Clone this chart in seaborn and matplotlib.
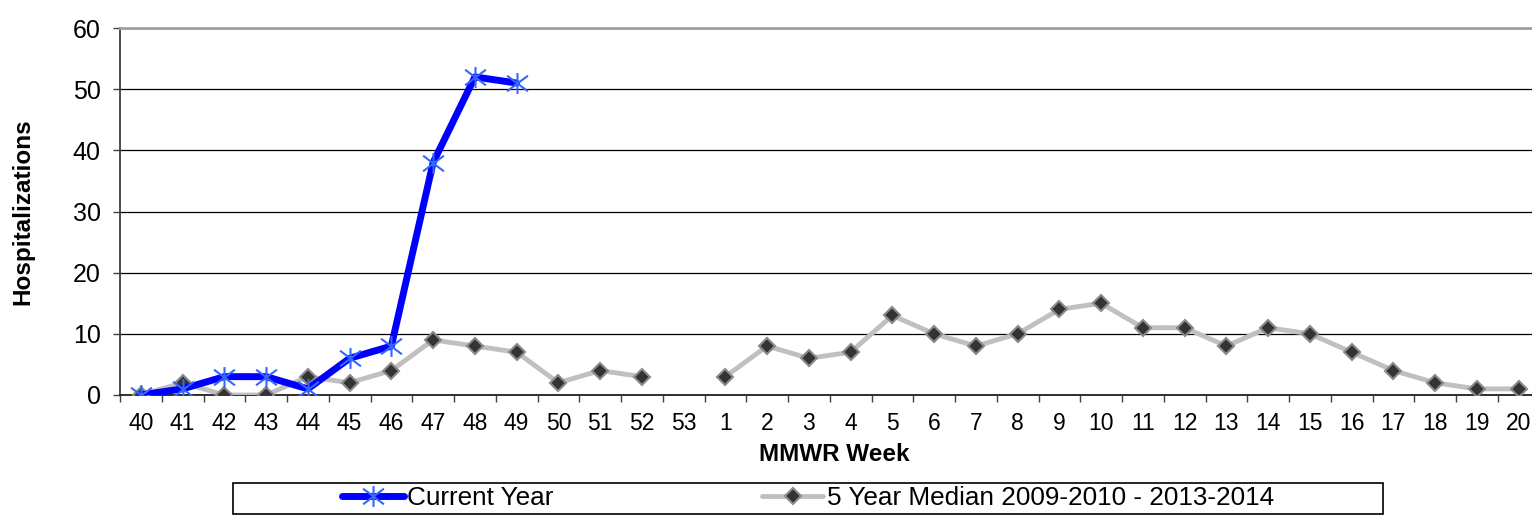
import numpy as np
import pandas as pd
import seaborn as sns
import matplotlib.pyplot as plt
from matplotlib.path import Path
from matplotlib.patches import Rectangle

## Data
weeks = [str(w) for w in range(40, 54)] + [str(w) for w in range(1, 21)]
current_year = [0, 1, 3, 3, 1, 6, 8, 38, 52, 51] + [np.nan] * 24
median_5yr = [0, 2, 0, 0, 3, 2, 4, 9, 8, 7, 2, 4, 3, np.nan,
              3, 8, 6, 7, 13, 10, 8, 10, 14, 15, 11, 11, 8, 11, 10, 7, 4, 2, 1, 1]
# the median line breaks at week 53
median_segment = [0] * 14 + [1] * 20

df = pd.DataFrame({'pos': range(len(weeks)), 'week': weeks,
                   'current': current_year, 'median': median_5yr,
                   'segment': median_segment})

sns.set_style('white')
plt.rcParams['font.family'] = ['Liberation Sans', 'DejaVu Sans']
plt.rcParams['text.color'] = 'black'
plt.rcParams['axes.labelcolor'] = 'black'
plt.rcParams['xtick.labelcolor'] = 'black'
plt.rcParams['ytick.labelcolor'] = 'black'

fig = plt.figure(figsize=(15.32, 5.18), dpi=100)
ax = fig.add_axes([120 / 1532, 1 - 395 / 518, 34 * 41.75 / 1532, 367 / 518])

# asterisk marker like the Excel one
star = Path([(0, -1), (0, 1), (-1, -0.75), (1, 0.75), (-1, 0.75), (1, -0.75)],
            [Path.MOVETO, Path.LINETO] * 3)

med = df.dropna(subset=['median'])
sns.lineplot(data=med, x='pos', y='median', units='segment', estimator=None,
             color='#c0c0c0', lw=3.5, marker='D', markersize=8.5,
             markerfacecolor='#333333', markeredgecolor='#8a8a8a',
             markeredgewidth=1.5, ax=ax, label='5 Year Median 2009-2010 - 2013-2014',
             zorder=3)

cur = df.dropna(subset=['current'])
sns.lineplot(data=cur, x='pos', y='current', color='#0000ff', lw=5,
             marker=star, markersize=15, markeredgecolor='#3366ff',
             markerfacecolor='none', markeredgewidth=1.5, ax=ax,
             label='Current Year', zorder=4)

ax.set_xlim(-0.5, len(weeks) - 0.5)
ax.set_ylim(0, 60)
ax.set_yticks(range(0, 61, 10))
ax.set_xticks(df['pos'])
ax.set_xticklabels(weeks)
ax.set_xticks(np.arange(-0.5, len(weeks), 1), minor=True)
ax.tick_params(axis='x', which='major', length=0, pad=12, labelsize=16.5)
ax.tick_params(axis='x', which='minor', length=5, width=1, color='#404040',
               direction='out', bottom=True)
ax.tick_params(axis='y', which='major', length=5, width=1, color='#404040',
               direction='out', left=True, pad=9, labelsize=18)

ax.grid(axis='y', color='black', lw=0.9)
ax.grid(axis='x', visible=False)
ax.set_axisbelow(True)

ax.spines['right'].set_visible(False)
ax.spines['top'].set_color('#a0a0a0')
ax.spines['top'].set_linewidth(2)
ax.spines['left'].set_color('#404040')
ax.spines['left'].set_linewidth(1.3)
ax.spines['bottom'].set_color('#202020')
ax.spines['bottom'].set_linewidth(1.3)

ax.set_xlabel('MMWR Week', fontsize=17.5, fontweight='bold')
ax.set_ylabel('Hospitalizations', fontsize=17.5, fontweight='bold')
ax.xaxis.set_label_coords(0.503, -0.132)
ax.yaxis.set_label_coords(-0.06, 0.5)

# legend in its own box under the axes
ax.get_legend().remove()
handles, labels = ax.get_legend_handles_labels()
order = [labels.index('Current Year'), labels.index('5 Year Median 2009-2010 - 2013-2014')]
fig.legend([handles[i] for i in order], [labels[i] for i in order],
           loc='center', bbox_to_anchor=(808 / 1532, 1 - 498 / 518), ncol=2,
           frameon=False, fontsize=18.8, handlelength=2.35, handletextpad=0.12,
           columnspacing=8.0)
fig.patches.append(Rectangle((233 / 1532, 1 - 514 / 518), 1150 / 1532, 31 / 518,
                             transform=fig.transFigure, fill=False,
                             edgecolor='black', lw=1.2))

fig.savefig('out.png', dpi=100)
